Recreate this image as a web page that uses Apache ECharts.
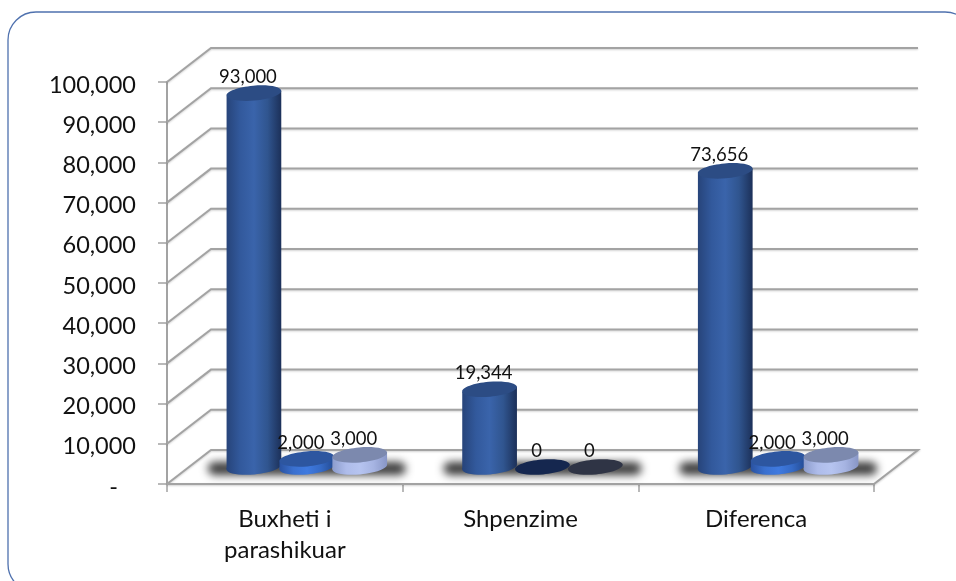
<!DOCTYPE html>
<html><head><meta charset="utf-8">
<style>html,body{margin:0;padding:0;background:#fff}#c{width:956px;height:581px}</style>
<script src="https://cdn.jsdelivr.net/npm/echarts@6/dist/echarts.min.js"></script>
</head><body><div id="c"></div>
<script>
const categories = ['Buxheti i\nparashikuar', 'Shpenzime', 'Diferenca'];
const seriesA = [93000, 19344, 73656];
const seriesB = [2000, 0, 2000];
const seriesC = [3000, 0, 3000];
const yTicks = [0, 10000, 20000, 30000, 40000, 50000, 60000, 70000, 80000, 90000, 100000];
const yTickLabels = ['-   ', '10,000', '20,000', '30,000', '40,000', '50,000', '60,000', '70,000', '80,000', '90,000', '100,000'];

const DX = 44, DY = -34, RY = 7.5, TILT = 5 * Math.PI / 180;
const FONT = 'Lato, Carlito, "Open Sans", sans-serif';
const grey = '#a3a3a3';
const chart = echarts.init(document.getElementById('c'), null, {renderer: 'canvas'});

function lg(stops) {
  return new echarts.graphic.LinearGradient(0, 0, 1, 0, stops.map((c, i) => ({offset: i / (stops.length - 1), color: c})));
}
const styles = [
  {body: ['#27447a', '#32599c', '#3a64ab', '#30558f', '#1c3059'], top: '#2c4c84', zero: '#2c4c84'},
  {body: ['#2a52a0', '#3a70cf', '#3f7ae0', '#356ac6', '#234a92'], top: '#2d56a0', zero: '#15274f'},
  {body: ['#8c9ccc', '#aebcea', '#b6c4f0', '#a6b4e2', '#8896c6'], top: '#7c89ae', zero: '#2f3445'}
];

function gridItem(params, api) {
  const p = api.coord([0, api.value(0)]);
  const x0 = p[0] - api.size([1, 0])[0] / 2;
  const xEnd = x0 + api.size([1, 0])[0] * 3;
  const y = p[1];
  const pts = [[x0, y], [x0 + DX, y + DY], [xEnd + DX, y + DY]];
  if (api.value(0) === 0) pts.push([xEnd, y], [x0, y]);
  return {type: 'polyline', silent: true, shape: {points: pts},
    style: {fill: null, stroke: grey, lineWidth: 2, shadowColor: 'rgba(0,0,0,0.18)', shadowBlur: 2, shadowOffsetY: 1}};
}

function shadowItem(params, api) {
  const band = api.size([1, 0])[0];
  const p = api.coord([api.value(0), 0]);
  const cx = p[0] + DX / 2, cy = p[1] + DY / 2 + 1.5;
  const w = band * 0.84, h = 13, off = 3000;
  return {type: 'rect', silent: true,
    shape: {x: cx - w / 2 - off, y: cy - h / 2, width: w, height: h, r: h / 2},
    style: {fill: '#000', shadowColor: 'rgba(60,60,60,1)', shadowBlur: 9, shadowOffsetX: off}};
}

function cylItem(idx) {
  return function (params, api) {
    const band = api.size([1, 0])[0];
    const v = api.value(1);
    const base = api.coord([api.value(0), 0]);
    const top = api.coord([api.value(0), v]);
    const cx = base[0] + DX / 2 + (idx - 1) * band * 0.2245;
    const rx = band * 0.1165;
    const by = base[1] + DY / 2, ty = top[1] + DY / 2;
    const s = styles[idx];
    const sx = Math.cos(TILT) * rx, sy = Math.sin(TILT) * rx;
    const kids = [];
    const ell = (y, fill) => ({type: 'ellipse', originX: cx, originY: y, rotation: TILT,
      shape: {cx: cx, cy: y, rx: rx, ry: RY}, style: {fill: fill}, silent: true});
    if (v > 0) {
      const grad = lg(s.body);
      kids.push(ell(by, grad));
      kids.push({type: 'polygon', silent: true,
        shape: {points: [[cx - sx, ty + sy], [cx + sx, ty - sy], [cx + sx, by - sy], [cx - sx, by + sy]]},
        style: {fill: grad}});
      kids.push(ell(ty, s.top));
    } else {
      kids.push(ell(ty, s.zero));
    }
    kids.push({type: 'text', silent: true, z2: 50,
      style: {text: v.toLocaleString('en-US'), x: cx - 6, y: ty - 16, align: 'center', verticalAlign: 'middle',
        font: '18.5px ' + FONT, fill: '#111'}});
    return {type: 'group', children: kids};
  };
}

const toData = a => a.map((v, i) => [i, v]);
const dim = {x: 0, y: 1};

chart.setOption({
  animation: false,
  backgroundColor: '#fff',
  graphic: [{type: 'rect', silent: true, z: -1,
    shape: {x: 8, y: 12, width: 965, height: 580, r: 28},
    style: {fill: '#fff', stroke: '#4f71ae', lineWidth: 1.3}}],
  grid: {left: 167, right: 82, top: 82, bottom: 97},
  xAxis: {type: 'category', data: categories, boundaryGap: true,
    axisLine: {show: false},
    axisTick: {show: true, alignWithLabel: false, length: 8, lineStyle: {color: grey, width: 1.5}},
    axisLabel: {fontFamily: FONT, fontSize: 24, color: '#111', margin: 20, lineHeight: 31, interval: 0},
    splitLine: {show: false}},
  yAxis: {type: 'value', min: 0, max: 100000, interval: 10000,
    axisLine: {show: true, lineStyle: {color: grey, width: 2}},
    axisTick: {show: true, length: 9, lineStyle: {color: grey, width: 1.5}},
    axisLabel: {fontFamily: FONT, fontSize: 23.5, color: '#111', margin: 31, verticalAlign: 'top', lineHeight: 6,
      formatter: v => yTickLabels[yTicks.indexOf(v)]},
    splitLine: {show: false}},
  series: [
    {type: 'custom', coordinateSystem: 'cartesian2d', z: 1, clip: false, encode: {y: 0},
      data: yTicks.map(v => [v]), renderItem: gridItem},
    {type: 'custom', coordinateSystem: 'cartesian2d', z: 2, clip: false, encode: dim,
      data: categories.map((c, i) => [i, 0]), renderItem: shadowItem},
    {type: 'custom', name: 'A', z: 3, clip: false, encode: dim, data: toData(seriesA), renderItem: cylItem(0)},
    {type: 'custom', name: 'B', z: 4, clip: false, encode: dim, data: toData(seriesB), renderItem: cylItem(1)},
    {type: 'custom', name: 'C', z: 5, clip: false, encode: dim, data: toData(seriesC), renderItem: cylItem(2)}
  ]
});
</script></body></html>
